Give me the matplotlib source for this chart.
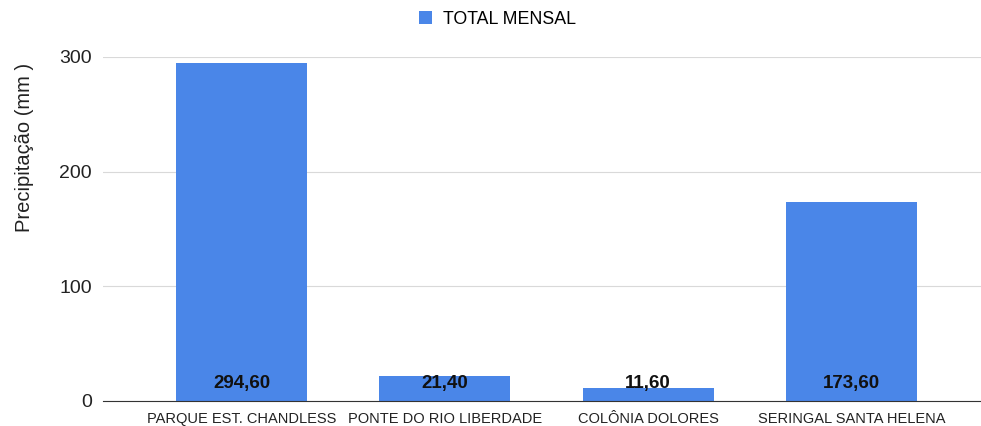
import matplotlib.pyplot as plt
import numpy as np

plt.rcParams['font.family'] = ['Liberation Sans', 'DejaVu Sans']

estacoes = ['PARQUE EST. CHANDLESS', 'PONTE DO RIO LIBERDADE',
            'COLÔNIA DOLORES', 'SERINGAL SANTA HELENA']
total_mensal = [294.60, 21.40, 11.60, 173.60]
rotulos = ['294,60', '21,40', '11,60', '173,60']

cor = '#4a86e8'

fig = plt.figure(figsize=(9.81, 4.26), dpi=100)
ax = fig.add_axes([0.105, 0.0587, 0.895, 0.8075])

x = np.arange(len(estacoes))
barras = ax.bar(x, total_mensal, width=0.645, color=cor, label='TOTAL MENSAL', zorder=2)

for xi, txt in zip(x, rotulos):
    ax.text(xi, 15.5, txt, ha='center', va='center', fontsize=13.5,
            fontweight='bold', color='#111111', zorder=3)

ax.set_xlim(-0.681, 3.637)
ax.set_ylim(0, 300)
ax.set_yticks([0, 100, 200, 300])
ax.set_xticks(x)
ax.set_xticklabels(estacoes, fontsize=10.5, color='#222222')
ax.tick_params(axis='y', labelsize=14, colors='#222222', length=0, pad=8)
ax.tick_params(axis='x', length=0, pad=8)
ax.set_ylabel('Precipitação (mm )', fontsize=14.5, color='#222222')
ax.yaxis.set_label_coords(-0.079, 0.738)

ax.grid(axis='y', color='#d9d9d9', linewidth=0.8, zorder=0)
for s in ['top', 'right', 'left']:
    ax.spines[s].set_visible(False)
ax.spines['bottom'].set_color('#333333')
ax.spines['bottom'].set_zorder(4)

fig.legend(handles=[barras], labels=['TOTAL MENSAL'], loc='upper center',
           bbox_to_anchor=(0.507, 1.012), frameon=False, fontsize=12.8,
           handlelength=0.75, handleheight=0.75, handletextpad=0.6)

fig.savefig('out.png', dpi=100)
